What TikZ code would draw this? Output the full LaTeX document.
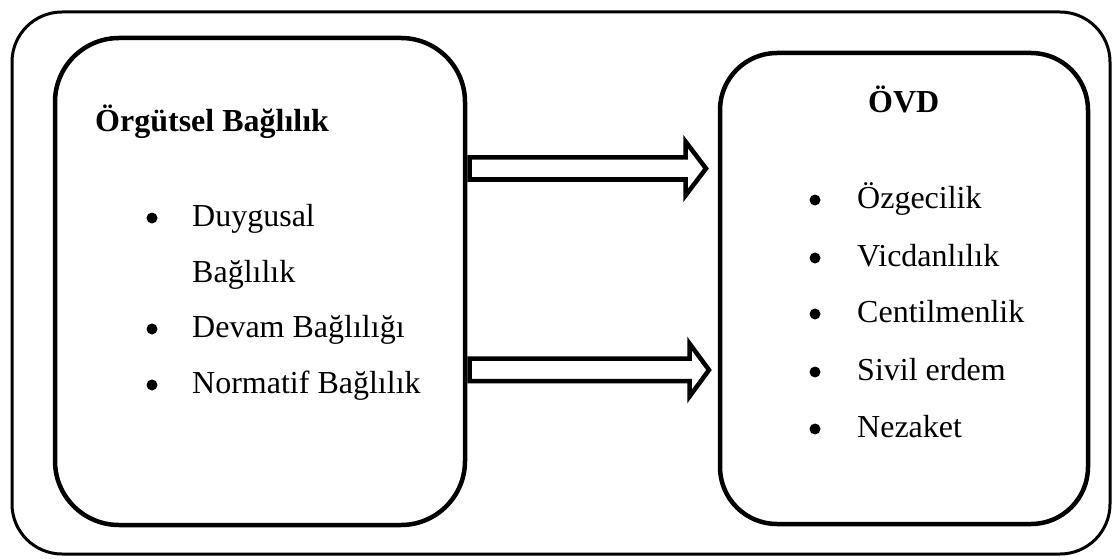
\documentclass[tikz,border=0pt]{standalone}
\usepackage{fontspec}
\setmainfont{Liberation Serif}
\tikzset{
  frame/.style={draw=black, line width=3pt, rounded corners=50pt},
  panel/.style={draw=black, line width=4.5pt},
  blockarrow/.style={draw=black, line width=4.5pt, fill=white, line join=miter},
  txt/.style={inner sep=0pt, anchor=base west, font=\fontsize{32pt}{38pt}\selectfont},
  ttl/.style={txt, font=\fontsize{32pt}{38pt}\selectfont\bfseries},
  dot/.style={fill=black}
}
\begin{document}
\begin{tikzpicture}[x=1pt,y=-1pt]
\useasboundingbox (0,0) rectangle (1114,559);
% outer frame
\draw[frame] (12,12) rectangle (1110,554);
% panels
\draw[panel, rounded corners=64pt] (55,38) rectangle (465,525);
\draw[panel, rounded corners=57pt] (720,53) rectangle (1088,524);
% left texts
\node[ttl] (t1) at (95,132) {Örgütsel Bağlılık};
\node[txt] (l1) at (192,226) {Duygusal};
\node[txt] (l1b) at (192,282) {Bağlılık};
\node[txt] (l2) at (192,337) {Devam Bağlılığı};
\node[txt] (l3) at (192,393) {Normatif Bağlılık};
\fill[dot] (152,218) circle (5.5);
\fill[dot] (152,329) circle (5.5);
\fill[dot] (152,385) circle (5.5);
% right texts
\node[ttl] (t2) at (868,113) {ÖVD};
\node[txt] (r1) at (857,208) {Özgecilik};
\node[txt] (r2) at (857,266) {Vicdanlılık};
\node[txt] (r3) at (857,322) {Centilmenlik};
\node[txt] (r4) at (857,380) {Sivil erdem};
\node[txt] (r5) at (857,437) {Nezaket};
\foreach \y in {200,258,314,372,429} \fill[dot] (815,\y) circle (5.5);
% block arrows
\draw[blockarrow] (469.5,157.5) -- (685.5,157.5) -- (685.5,141.5) -- (706,168.5)
  -- (685.5,195.5) -- (685.5,179.5) -- (469.5,179.5) -- cycle;
\draw[blockarrow] (469.5,358.5) -- (689.5,358.5) -- (689.5,343.5) -- (709,370)
  -- (689.5,396.5) -- (689.5,381) -- (469.5,381) -- cycle;
\end{tikzpicture}
\end{document}
